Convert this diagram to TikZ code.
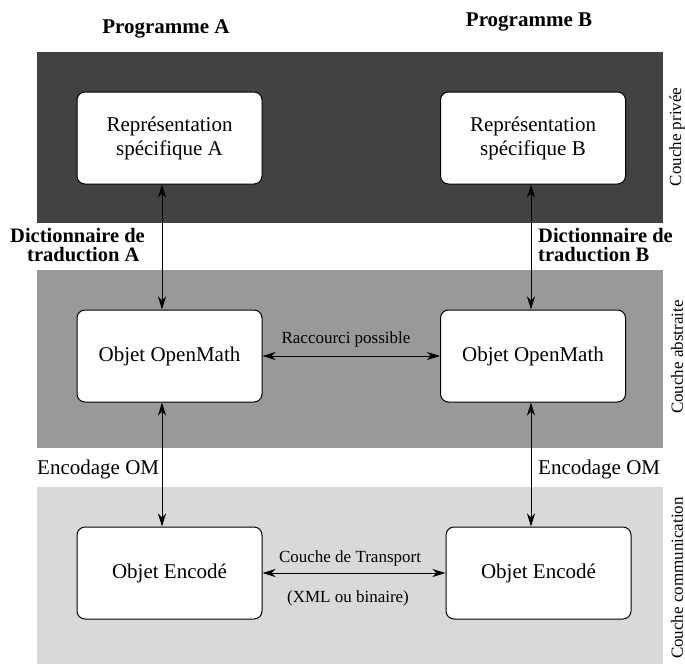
\documentclass[tikz,border=0pt]{standalone}
\usepackage{fontspec}
\setmainfont{Liberation Serif}
\usetikzlibrary{arrows.meta}
\definecolor{bandDark}{RGB}{66,66,66}
\definecolor{bandMid}{RGB}{153,153,153}
\definecolor{bandLight}{RGB}{217,217,217}
\begin{document}
\begin{tikzpicture}[x=1pt,y=-1pt,
  box/.style={draw=black, fill=white, rounded corners=8pt, line width=1pt,
    minimum width=185pt, minimum height=92pt, inner sep=0pt, align=center,
    font=\fontsize{21}{24}\selectfont},
  conn/.style={line width=0.9pt,
    {Stealth[length=13pt,width=8pt,inset=4pt]}-{Stealth[length=13pt,width=8pt,inset=4pt]}},
  small/.style={font=\fontsize{17}{19}\selectfont, inner sep=0pt},
  big/.style={font=\fontsize{21}{18}\selectfont\bfseries, inner sep=0pt},
  dict/.style={font=\fontsize{20.5}{19}\selectfont\bfseries, inner sep=0pt, align=left},
  mid/.style={font=\fontsize{21}{18}\selectfont, inner sep=0pt},
  side/.style={rotate=90, font=\fontsize{17}{18}\selectfont, inner sep=0pt}
]
\useasboundingbox (0,0) rectangle (685,664);
% bands
\fill[bandDark] (37,52) rectangle (663,223);
\fill[bandMid] (37,270) rectangle (663,448);
\fill[bandLight] (37,487) rectangle (663,664);

% titles
\node[big, anchor=base] (pA) at (166,33) {Programme A};
\node[big, anchor=base] (pB) at (529,26) {Programme B};

% boxes
\node[box] (RA) at (169.5,138) {Représentation\\spécifique A};
\node[box] (RB) at (533,138) {Représentation\\spécifique B};
\node[box] (OA) at (169.5,356) {Objet OpenMath};
\node[box] (OB) at (533,356) {Objet OpenMath};
\node[box] (EA) at (169.5,573) {Objet Encodé};
\node[box] (EB) at (538.5,573) {Objet Encodé};

% arrow columns
\coordinate (xl) at (162,0);
\coordinate (xr) at (531,0);

\draw[conn] (RA.south -| xl) -- (OA.north -| xl);
\draw[conn] (RB.south -| xr) -- (OB.north -| xr);
\draw[conn] (OA.south -| xl) -- (EA.north -| xl);
\draw[conn] (OB.south -| xr) -- (EB.north -| xr);
\draw[conn] (OA.east) -- (OB.west);
\draw[conn] (EA.east) -- (EB.west);

% labels
\node[dict, anchor=base west] (dA) at (10,261) {Dictionnaire de\\\hspace*{17pt}traduction A};
\node[dict, anchor=base west] (dB) at (538,261) {Dictionnaire de\\traduction B};

\node[mid, anchor=base west] (eA) at (37,474) {Encodage OM};
\node[mid, anchor=base west] (eB) at (538,474) {Encodage OM};

\node[small, anchor=base] (rac) at (346,343) {Raccourci possible};
\node[small, anchor=base] (ct) at (350,562) {Couche de Transport};
\node[small, anchor=base] (xml) at (348,602) {(XML ou binaire)};

\node[side] (sP) at (677,137) {Couche privée};
\node[side] (sA) at (677,357) {Couche abstraite};
\node[side] (sC) at (677,578) {Couche communication};
\end{tikzpicture}
\end{document}
